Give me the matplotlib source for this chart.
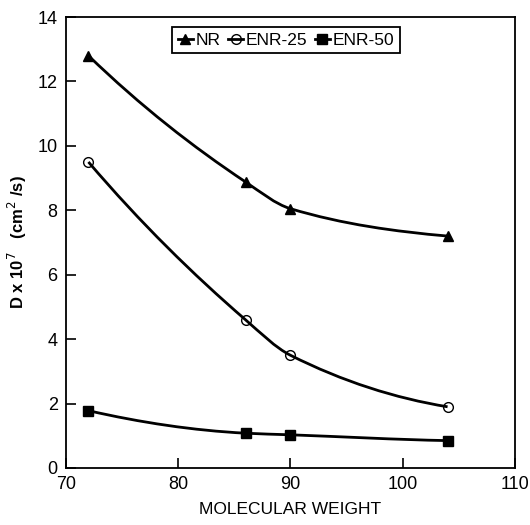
import matplotlib.pyplot as plt
import numpy as np
from matplotlib.path import Path
from matplotlib.patches import PathPatch
from matplotlib.lines import Line2D

plt.rcParams['font.family'] = ['Liberation Sans', 'DejaVu Sans']

mol_weight = [72, 86, 90, 104]
nr = [12.8, 8.88, 8.05, 7.2]
enr25 = [9.5, 4.6, 3.5, 1.9]
enr50 = [1.78, 1.08, 1.03, 0.85]

series = [('NR', nr, '^', 'black'),
          ('ENR-25', enr25, 'o', 'none'),
          ('ENR-50', enr50, 's', 'black')]


def smooth_path(x, y):
    # monotone cubic (pchip-like) drawn as bezier segments
    x = np.asarray(x, float)
    y = np.asarray(y, float)
    h = np.diff(x)
    d = np.diff(y) / h
    m = np.zeros_like(y)
    m[0] = ((2 * h[0] + h[1]) * d[0] - h[0] * d[1]) / (h[0] + h[1])
    m[-1] = 0.5 * d[-1]
    for i in range(1, len(x) - 1):
        if d[i - 1] * d[i] > 0:
            w1 = 2 * h[i] + h[i - 1]
            w2 = h[i] + 2 * h[i - 1]
            m[i] = (w1 + w2) / (w1 / d[i - 1] + w2 / d[i])
    verts = [(x[0], y[0])]
    codes = [Path.MOVETO]
    for i in range(len(x) - 1):
        verts += [(x[i] + h[i] / 3, y[i] + m[i] * h[i] / 3),
                  (x[i + 1] - h[i] / 3, y[i + 1] - m[i + 1] * h[i] / 3),
                  (x[i + 1], y[i + 1])]
        codes += [Path.CURVE4] * 3
    return Path(verts, codes)


fig = plt.figure(figsize=(5.3, 5.25), dpi=100)
ax = fig.add_axes([0.1245, 0.1086, 0.847, 0.859])

handles = []
for name, vals, mk, fc in series:
    ax.add_patch(PathPatch(smooth_path(mol_weight, vals), fill=False,
                           edgecolor='black', lw=2.0))
    ax.plot(mol_weight, vals, linestyle='none', marker=mk, ms=7,
            markerfacecolor=fc, markeredgecolor='black',
            markeredgewidth=1.0, zorder=3)
    handles.append(Line2D([], [], color='black', lw=2.0, marker=mk, ms=7,
                          markerfacecolor=fc, markeredgecolor='black',
                          label=name))

ax.set_xlim(70, 110)
ax.set_ylim(0, 14)
ax.set_xticks([70, 80, 90, 100, 110])
ax.set_yticks([0, 2, 4, 6, 8, 10, 12, 14])
ax.tick_params(direction='in', length=7, width=1.2, labelsize=13, pad=6,
               top=False, right=False)
for s in ax.spines.values():
    s.set_linewidth(1.3)

ax.set_xlabel('MOLECULAR WEIGHT', fontsize=12.5, labelpad=6)
ax.set_ylabel(r'D x 10$^7$   (cm$^2$ /s)', fontsize=12, fontweight='bold',
              labelpad=6)

leg = ax.legend(handles=handles, loc='upper center', ncol=3, fontsize=12.5,
                handlelength=0.9, handletextpad=0.15, columnspacing=0.4,
                borderpad=0.3, borderaxespad=0.2, fancybox=False,
                framealpha=1, bbox_to_anchor=(0.49, 0.985))
leg.get_frame().set_edgecolor('black')
leg.get_frame().set_linewidth(1.3)

plt.savefig('out.png', dpi=100)
